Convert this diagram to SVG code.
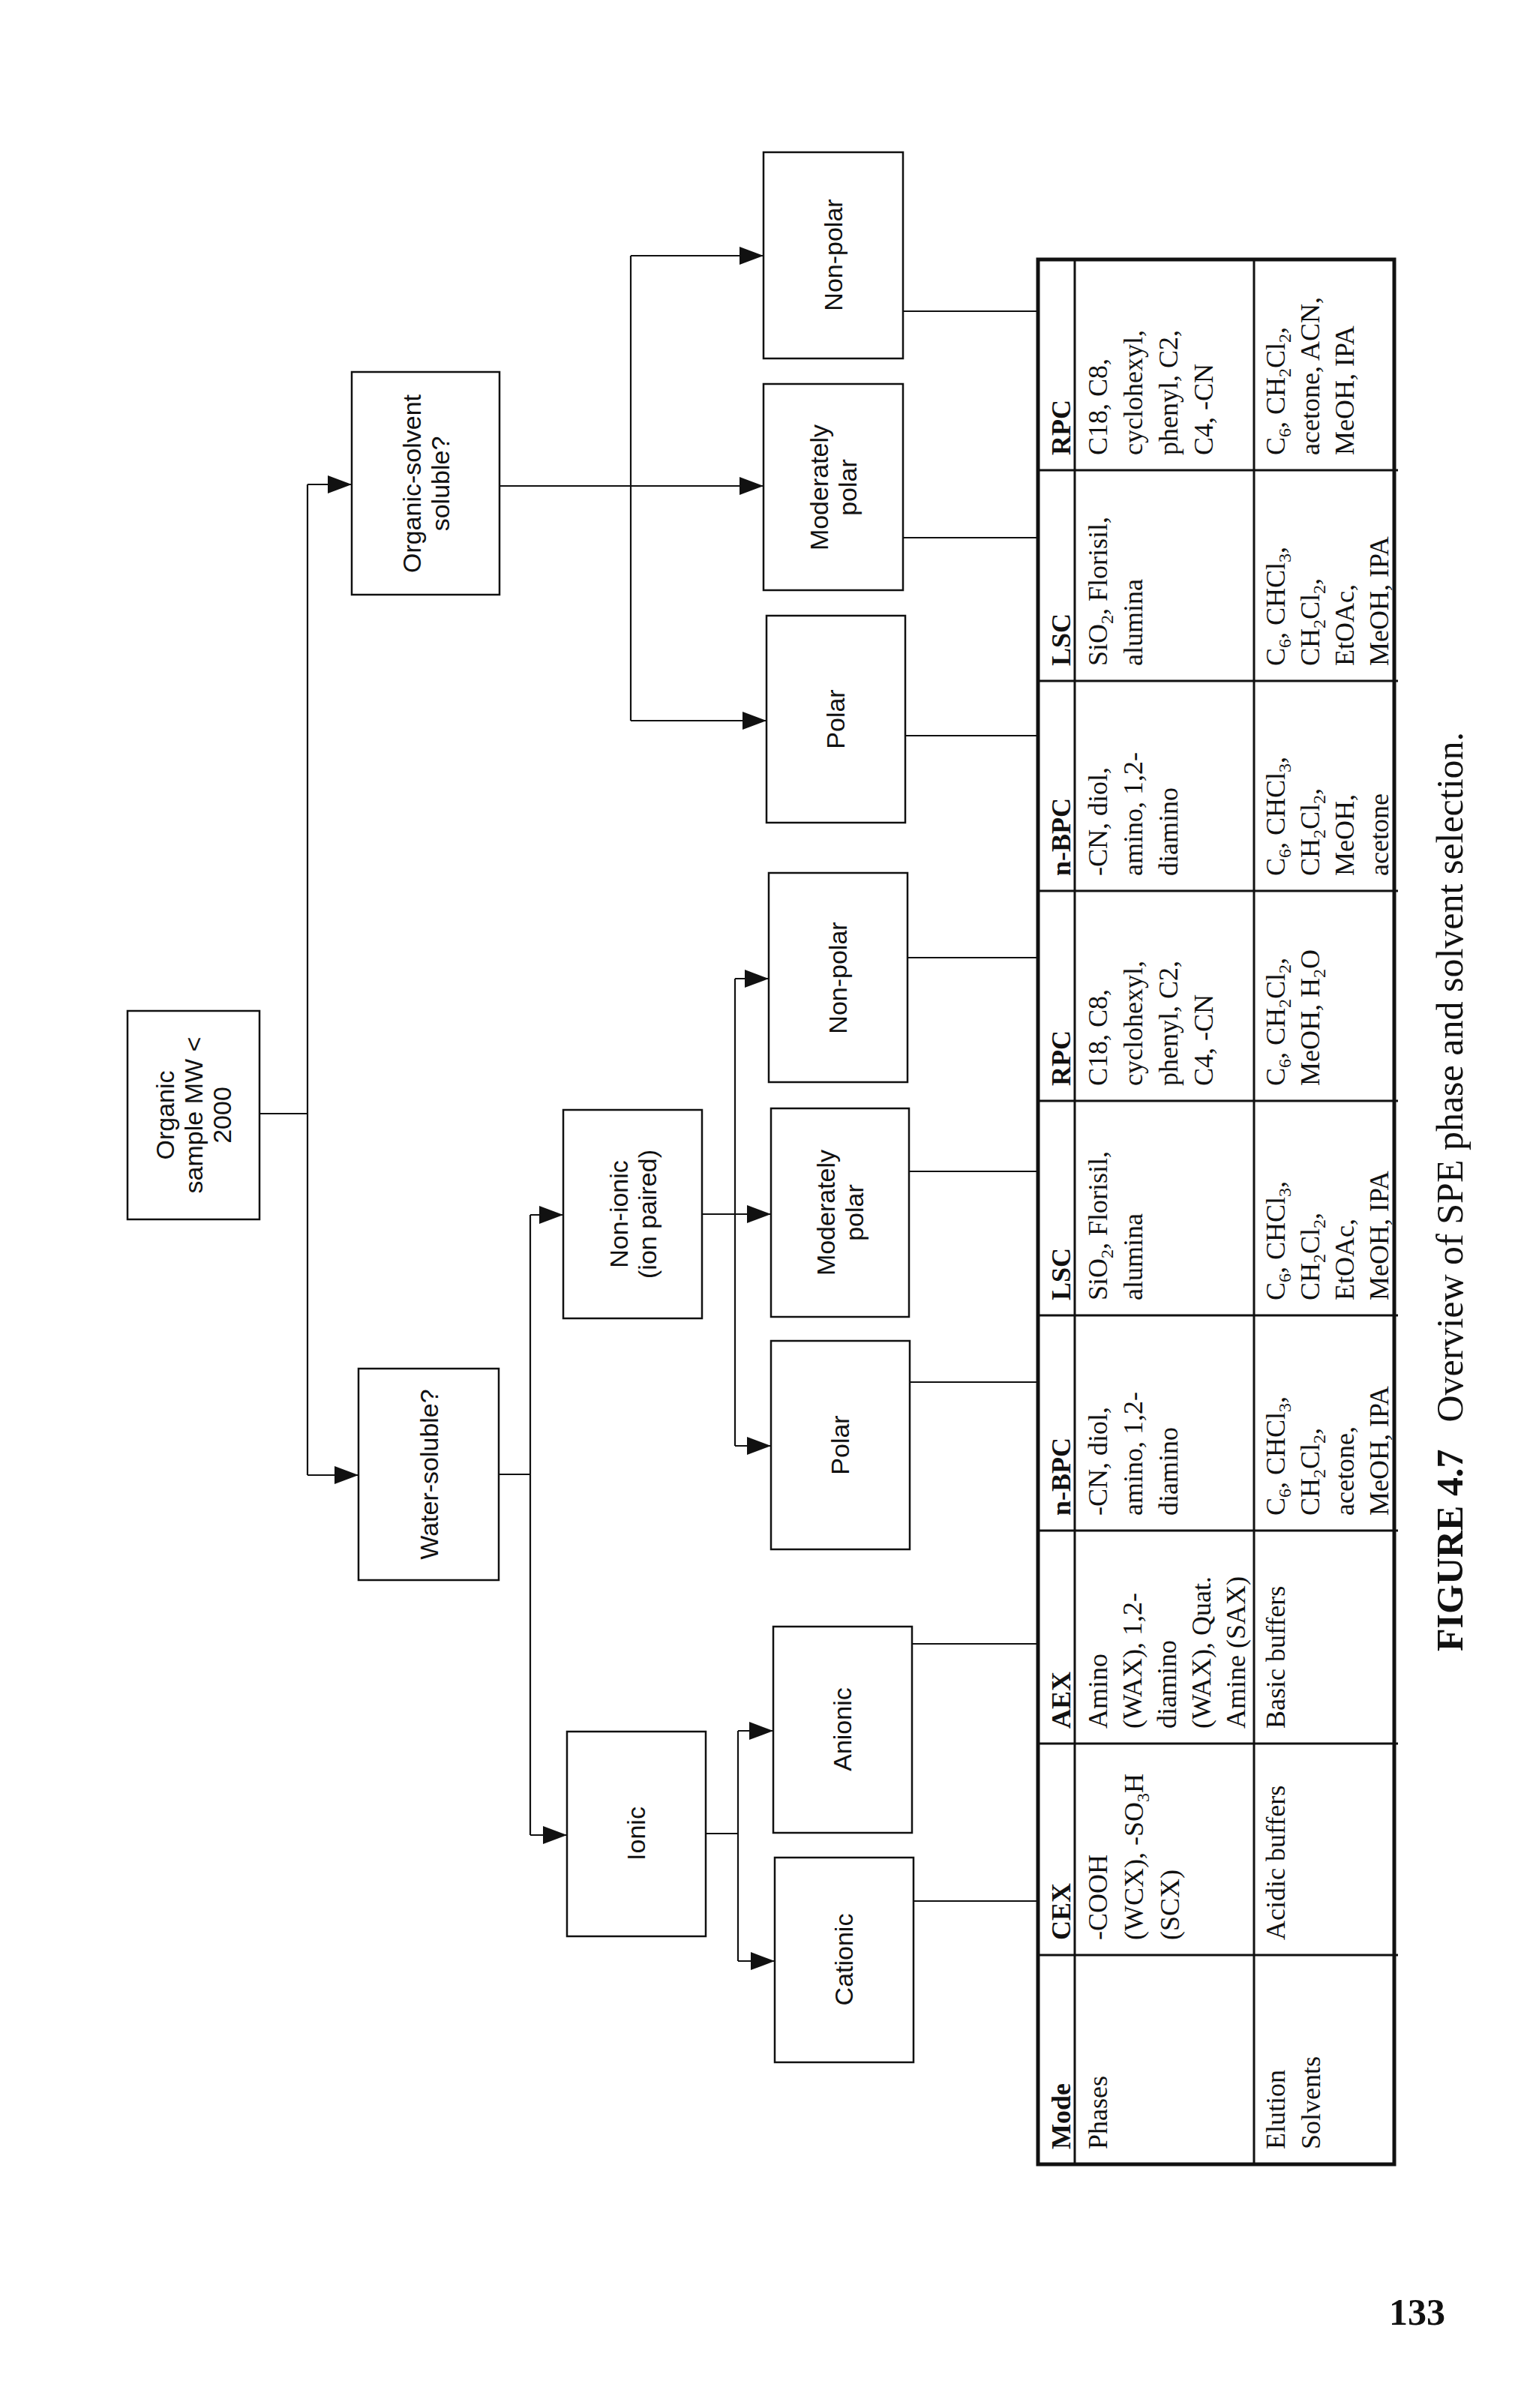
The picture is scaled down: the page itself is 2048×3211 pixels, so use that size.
<svg xmlns="http://www.w3.org/2000/svg" width="2048" height="3211" viewBox="0 0 2048 3211">
<style>
.box{fill:#fff;stroke:#111;stroke-width:2.5}
.ln{fill:none;stroke:#111;stroke-width:2.2}
.ar{fill:none;stroke:#111;stroke-width:2.2;marker-end:url(#ah)}
.nt{font-family:"Liberation Sans",Arial,sans-serif;font-size:34px;fill:#111;text-anchor:middle}
.tt{font-family:"Liberation Serif","Times New Roman",serif;font-size:36px;fill:#111}
.th{font-weight:bold}
.tb{fill:none;stroke:#111;stroke-width:3}
.to{fill:none;stroke:#111;stroke-width:5}
</style>
<defs>
<marker id="ah" viewBox="0 0 10 10" refX="10" refY="5" markerWidth="32" markerHeight="24" markerUnits="userSpaceOnUse" orient="auto" preserveAspectRatio="none"><path d="M0,0 L10,5 L0,10 z" fill="#111"/></marker>
</defs>
<rect width="2048" height="3211" fill="#fff"/>
<g id="connectors">
<path class="ln" d="M346,1485 H410 M410,646 V1967"/>
<path class="ar" d="M410,646 H469"/>
<path class="ar" d="M410,1967 H478"/>
<path class="ar" d="M666,648 H1018"/>
<path class="ln" d="M841,341 V961"/>
<path class="ar" d="M841,341 H1018"/>
<path class="ar" d="M841,961 H1022"/>
<path class="ln" d="M665,1966 H707 M707,1620 V2447"/>
<path class="ar" d="M707,1620 H751"/>
<path class="ar" d="M707,2447 H756"/>
<path class="ar" d="M936,1619 H1028"/>
<path class="ln" d="M980,1305 V1928"/>
<path class="ar" d="M980,1305 H1025"/>
<path class="ar" d="M980,1928 H1028"/>
<path class="ln" d="M941,2445 H984 M984,2308 V2615"/>
<path class="ar" d="M984,2308 H1031"/>
<path class="ar" d="M984,2615 H1033"/>
<path class="ln" d="M1204,415 H1384 M1204,717 H1384 M1207,981 H1384 M1210,1277 H1384 M1208,1562 H1384 M1213,1843 H1384 M1216,2192 H1384 M1218,2535 H1384"/>
</g>
<g id="n-organic"><rect class="box" x="170" y="1348" width="176" height="278"/>
<text class="nt" transform="rotate(-90 258 1487)" x="258" y="1487"><tspan x="258" dy="-26">Organic</tspan><tspan x="258" dy="38">sample MW &lt;</tspan><tspan x="258" dy="38">2000</tspan></text></g>
<g id="n-orgsolv"><rect class="box" x="469" y="496" width="197" height="297"/>
<text class="nt" transform="rotate(-90 568 645)" x="568" y="645"><tspan x="568" dy="-7">Organic-solvent</tspan><tspan x="568" dy="38">soluble?</tspan></text></g>
<g id="n-water"><rect class="box" x="478" y="1825" width="187" height="282"/>
<text class="nt" transform="rotate(-90 572 1966)" x="572" y="1966" dy="12">Water-soluble?</text></g>
<g id="n-nonionic"><rect class="box" x="751" y="1480" width="185" height="278"/>
<text class="nt" transform="rotate(-90 844 1619)" x="844" y="1619"><tspan x="844" dy="-7">Non-ionic</tspan><tspan x="844" dy="38">(ion paired)</tspan></text></g>
<g id="n-ionic"><rect class="box" x="756" y="2309" width="185" height="273"/>
<text class="nt" transform="rotate(-90 848 2445)" x="848" y="2445" dy="12">Ionic</text></g>
<g id="n-np2"><rect class="box" x="1018" y="203" width="186" height="275"/>
<text class="nt" transform="rotate(-90 1111 340)" x="1111" y="340" dy="12">Non-polar</text></g>
<g id="n-mp2"><rect class="box" x="1018" y="512" width="186" height="275"/>
<text class="nt" transform="rotate(-90 1111 650)" x="1111" y="650"><tspan x="1111" dy="-7">Moderately</tspan><tspan x="1111" dy="38">polar</tspan></text></g>
<g id="n-p2"><rect class="box" x="1022" y="821" width="185" height="276"/>
<text class="nt" transform="rotate(-90 1114 959)" x="1114" y="959" dy="12">Polar</text></g>
<g id="n-np1"><rect class="box" x="1025" y="1164" width="185" height="279"/>
<text class="nt" transform="rotate(-90 1117 1304)" x="1117" y="1304" dy="12">Non-polar</text></g>
<g id="n-mp1"><rect class="box" x="1028" y="1478" width="184" height="278"/>
<text class="nt" transform="rotate(-90 1120 1617)" x="1120" y="1617"><tspan x="1120" dy="-7">Moderately</tspan><tspan x="1120" dy="38">polar</tspan></text></g>
<g id="n-p1"><rect class="box" x="1028" y="1788" width="185" height="278"/>
<text class="nt" transform="rotate(-90 1120 1927)" x="1120" y="1927" dy="12">Polar</text></g>
<g id="n-anionic"><rect class="box" x="1031" y="2169" width="185" height="275"/>
<text class="nt" transform="rotate(-90 1123 2306)" x="1123" y="2306" dy="12">Anionic</text></g>
<g id="n-cationic"><rect class="box" x="1033" y="2477" width="185" height="273"/>
<text class="nt" transform="rotate(-90 1125 2613)" x="1125" y="2613" dy="12">Cationic</text></g>
<g id="table">
<path class="tb" d="M1433,346 V2886 M1672,346 V2886 M1384,627 H1864 M1384,908 H1864 M1384,1188 H1864 M1384,1468 H1864 M1384,1754 H1864 M1384,2041 H1864 M1384,2325 H1864 M1384,2607 H1864"/>
<rect class="to" x="1384" y="346" width="475" height="2540"/>
<text class="tt" transform="rotate(-90 1427 2866)" x="1427" y="2866"><tspan class="th">Mode</tspan></text>
<text class="tt" transform="rotate(-90 1476 2866)" x="1476" y="2866">Phases</text>
<text class="tt" transform="rotate(-90 1713 2866)" x="1713" y="2866"><tspan x="1713">Elution</tspan><tspan x="1713" dy="47">Solvents</tspan></text>
<text class="tt th" transform="rotate(-90 1427 2587)" x="1427" y="2587">CEX</text>
<text class="tt" transform="rotate(-90 1476 2587)" x="1476" y="2587"><tspan x="1476">-COOH</tspan><tspan x="1476" dy="48">(WCX), -SO<tspan font-size="24" dy="8">3</tspan><tspan dy="-8">H</tspan></tspan><tspan x="1476" dy="48">(SCX)</tspan></text>
<text class="tt" transform="rotate(-90 1713 2587)" x="1713" y="2587">Acidic buffers</text>
<text class="tt th" transform="rotate(-90 1427 2305)" x="1427" y="2305">AEX</text>
<text class="tt" transform="rotate(-90 1476 2305)" x="1476" y="2305"><tspan x="1476">Amino</tspan><tspan x="1476" dy="46">(WAX), 1,2-</tspan><tspan x="1476" dy="46">diamino</tspan><tspan x="1476" dy="46">(WAX), Quat.</tspan><tspan x="1476" dy="46">Amine (SAX)</tspan></text>
<text class="tt" transform="rotate(-90 1713 2305)" x="1713" y="2305">Basic buffers</text>
<text class="tt th" transform="rotate(-90 1427 2021)" x="1427" y="2021">n-BPC</text>
<text class="tt" transform="rotate(-90 1476 2021)" x="1476" y="2021"><tspan x="1476">-CN, diol,</tspan><tspan x="1476" dy="47">amino, 1,2-</tspan><tspan x="1476" dy="47">diamino</tspan></text>
<text class="tt" transform="rotate(-90 1713 2021)" x="1713" y="2021"><tspan x="1713">C<tspan font-size="24" dy="8">6</tspan><tspan dy="-8">, CHCl</tspan><tspan font-size="24" dy="8">3</tspan><tspan dy="-8">,</tspan></tspan><tspan x="1713" dy="46">CH<tspan font-size="24" dy="8">2</tspan><tspan dy="-8">Cl</tspan><tspan font-size="24" dy="8">2</tspan><tspan dy="-8">,</tspan></tspan><tspan x="1713" dy="46">acetone,</tspan><tspan x="1713" dy="46">MeOH, IPA</tspan></text>
<text class="tt th" transform="rotate(-90 1427 1734)" x="1427" y="1734">LSC</text>
<text class="tt" transform="rotate(-90 1476 1734)" x="1476" y="1734"><tspan x="1476">SiO<tspan font-size="24" dy="8">2</tspan><tspan dy="-8">, Florisil,</tspan></tspan><tspan x="1476" dy="47">alumina</tspan></text>
<text class="tt" transform="rotate(-90 1713 1734)" x="1713" y="1734"><tspan x="1713">C<tspan font-size="24" dy="8">6</tspan><tspan dy="-8">, CHCl</tspan><tspan font-size="24" dy="8">3</tspan><tspan dy="-8">,</tspan></tspan><tspan x="1713" dy="46">CH<tspan font-size="24" dy="8">2</tspan><tspan dy="-8">Cl</tspan><tspan font-size="24" dy="8">2</tspan><tspan dy="-8">,</tspan></tspan><tspan x="1713" dy="46">EtOAc,</tspan><tspan x="1713" dy="46">MeOH, IPA</tspan></text>
<text class="tt th" transform="rotate(-90 1427 1448)" x="1427" y="1448">RPC</text>
<text class="tt" transform="rotate(-90 1476 1448)" x="1476" y="1448"><tspan x="1476">C18, C8,</tspan><tspan x="1476" dy="47">cyclohexyl,</tspan><tspan x="1476" dy="47">phenyl, C2,</tspan><tspan x="1476" dy="47">C4, -CN</tspan></text>
<text class="tt" transform="rotate(-90 1713 1448)" x="1713" y="1448"><tspan x="1713">C<tspan font-size="24" dy="8">6</tspan><tspan dy="-8">, CH</tspan><tspan font-size="24" dy="8">2</tspan><tspan dy="-8">Cl</tspan><tspan font-size="24" dy="8">2</tspan><tspan dy="-8">,</tspan></tspan><tspan x="1713" dy="46">MeOH, H<tspan font-size="24" dy="8">2</tspan><tspan dy="-8">O</tspan></tspan></text>
<text class="tt th" transform="rotate(-90 1427 1168)" x="1427" y="1168">n-BPC</text>
<text class="tt" transform="rotate(-90 1476 1168)" x="1476" y="1168"><tspan x="1476">-CN, diol,</tspan><tspan x="1476" dy="47">amino, 1,2-</tspan><tspan x="1476" dy="47">diamino</tspan></text>
<text class="tt" transform="rotate(-90 1713 1168)" x="1713" y="1168"><tspan x="1713">C<tspan font-size="24" dy="8">6</tspan><tspan dy="-8">, CHCl</tspan><tspan font-size="24" dy="8">3</tspan><tspan dy="-8">,</tspan></tspan><tspan x="1713" dy="46">CH<tspan font-size="24" dy="8">2</tspan><tspan dy="-8">Cl</tspan><tspan font-size="24" dy="8">2</tspan><tspan dy="-8">,</tspan></tspan><tspan x="1713" dy="46">MeOH,</tspan><tspan x="1713" dy="46">acetone</tspan></text>
<text class="tt th" transform="rotate(-90 1427 888)" x="1427" y="888">LSC</text>
<text class="tt" transform="rotate(-90 1476 888)" x="1476" y="888"><tspan x="1476">SiO<tspan font-size="24" dy="8">2</tspan><tspan dy="-8">, Florisil,</tspan></tspan><tspan x="1476" dy="47">alumina</tspan></text>
<text class="tt" transform="rotate(-90 1713 888)" x="1713" y="888"><tspan x="1713">C<tspan font-size="24" dy="8">6</tspan><tspan dy="-8">, CHCl</tspan><tspan font-size="24" dy="8">3</tspan><tspan dy="-8">,</tspan></tspan><tspan x="1713" dy="46">CH<tspan font-size="24" dy="8">2</tspan><tspan dy="-8">Cl</tspan><tspan font-size="24" dy="8">2</tspan><tspan dy="-8">,</tspan></tspan><tspan x="1713" dy="46">EtOAc,</tspan><tspan x="1713" dy="46">MeOH, IPA</tspan></text>
<text class="tt th" transform="rotate(-90 1427 607)" x="1427" y="607">RPC</text>
<text class="tt" transform="rotate(-90 1476 607)" x="1476" y="607"><tspan x="1476">C18, C8,</tspan><tspan x="1476" dy="47">cyclohexyl,</tspan><tspan x="1476" dy="47">phenyl, C2,</tspan><tspan x="1476" dy="47">C4, -CN</tspan></text>
<text class="tt" transform="rotate(-90 1713 607)" x="1713" y="607"><tspan x="1713">C<tspan font-size="24" dy="8">6</tspan><tspan dy="-8">, CH</tspan><tspan font-size="24" dy="8">2</tspan><tspan dy="-8">Cl</tspan><tspan font-size="24" dy="8">2</tspan><tspan dy="-8">,</tspan></tspan><tspan x="1713" dy="46">acetone, ACN,</tspan><tspan x="1713" dy="46">MeOH, IPA</tspan></text>
</g>
<text font-family="'Liberation Serif','Times New Roman',serif" font-size="50" fill="#111" transform="rotate(-90 1950 2202)" x="1950" y="2202"><tspan font-weight="bold">FIGURE 4.7</tspan><tspan dx="36">Overview of SPE phase and solvent selection.</tspan></text>
<text font-family="'Liberation Serif','Times New Roman',serif" font-size="50" font-weight="bold" fill="#111" x="1852" y="3100">133</text>
</svg>
